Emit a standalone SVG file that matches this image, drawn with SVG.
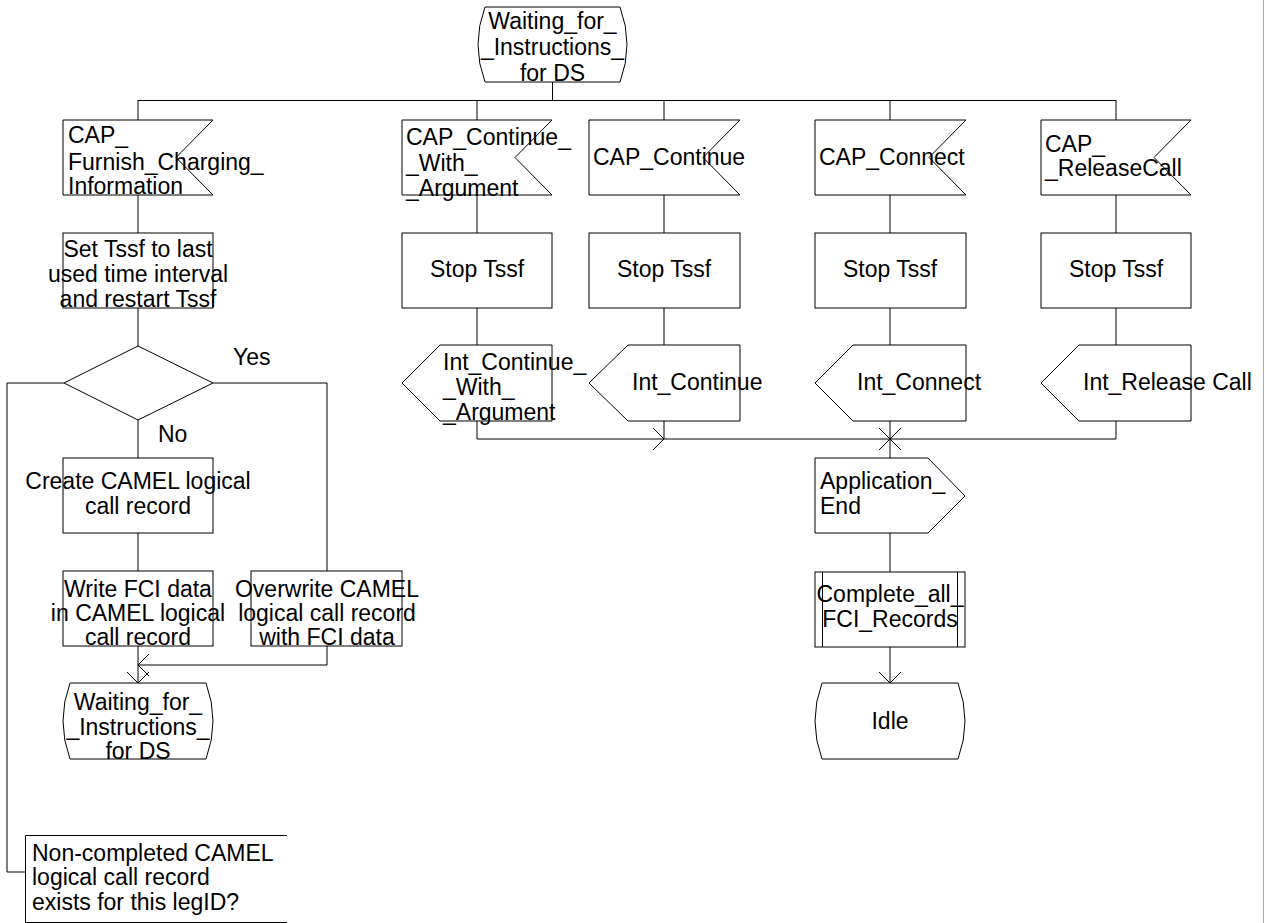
<svg xmlns="http://www.w3.org/2000/svg" width="1265" height="923" viewBox="0 0 1265 923">
<style>
.s{fill:#fff;stroke:#000;stroke-width:1}
.c{fill:none;stroke:#000;stroke-width:1}
text{font-family:"Liberation Sans",Arial,sans-serif;font-size:23px;fill:#000}
.m{text-anchor:middle}
</style>
<defs>
<marker id="ar" markerUnits="userSpaceOnUse" markerWidth="26" markerHeight="26" viewBox="-13 -13 26 26" refX="0" refY="0" orient="auto">
<path d="M-11,-11 L0,0 L-11,11" fill="none" stroke="#000" stroke-width="1"/>
</marker>
</defs>
<rect x="0" y="0" width="1265" height="923" fill="#fff"/>
<line x1="1263.5" y1="0" x2="1263.5" y2="923" stroke="#aaa" stroke-width="1"/>
<g id="connectors">
<line class="c" x1="552.5" y1="82" x2="552.5" y2="100" stroke-width="2"/>
<line class="c" x1="138" y1="100.5" x2="1116" y2="100.5"/>
<line class="c" x1="138" y1="100" x2="138" y2="120"/>
<line class="c" x1="477" y1="100" x2="477" y2="120"/>
<line class="c" x1="664" y1="100" x2="664" y2="120"/>
<line class="c" x1="890" y1="100" x2="890" y2="120"/>
<line class="c" x1="1116" y1="100" x2="1116" y2="120"/>
<line class="c" x1="138" y1="195" x2="138" y2="233"/>
<line class="c" x1="138" y1="308" x2="138" y2="346"/>
<polyline class="c" points="64,383 7,383 7,872 25,872"/>
<polyline class="c" points="213,383 327,383 327,571"/>
<line class="c" x1="138" y1="420" x2="138" y2="458"/>
<line class="c" x1="138" y1="533" x2="138" y2="571"/>
<line class="c" x1="138" y1="646" x2="138" y2="683" marker-end="url(#ar)"/>
<polyline class="c" points="327,646 327,665 138,665" marker-end="url(#ar)"/>
<line class="c" x1="477" y1="195" x2="477" y2="233"/>
<line class="c" x1="477" y1="308" x2="477" y2="345"/>
<line class="c" x1="664" y1="195" x2="664" y2="233"/>
<line class="c" x1="664" y1="308" x2="664" y2="345"/>
<line class="c" x1="890" y1="195" x2="890" y2="233"/>
<line class="c" x1="890" y1="308" x2="890" y2="345"/>
<line class="c" x1="1116" y1="195" x2="1116" y2="233"/>
<line class="c" x1="1116" y1="308" x2="1116" y2="345"/>
<polyline class="c" points="477,421 477,439 664,439" marker-end="url(#ar)"/>
<line class="c" x1="664" y1="421" x2="664" y2="439"/>
<line class="c" x1="664" y1="439" x2="890" y2="439" stroke-width="2" marker-end="url(#ar)"/>
<polyline class="c" points="1116,421 1116,439 890,439" marker-end="url(#ar)"/>
<line class="c" x1="890" y1="421" x2="890" y2="458"/>
<line class="c" x1="890" y1="533" x2="890" y2="572"/>
<line class="c" x1="890" y1="647" x2="890" y2="683" marker-end="url(#ar)"/>
</g>
<g id="state_top">
<path class="s" d="M485,7 L620,7 Q634,44.5 620,82 L485,82 Q471,44.5 485,7 Z"/>
<text class="m" x="552.5" y="29">Waiting_for_</text>
<text class="m" x="552.5" y="55">_Instructions_</text>
<text class="m" x="552.5" y="81">for DS</text>
</g>
<g id="in_furnish">
<polygon class="s" points="63,120 213,120 176,157.5 213,195 63,195"/>
<text x="68" y="143">CAP_</text>
<text x="68" y="170">Furnish_Charging_</text>
<text x="68" y="194">Information</text>
</g>
<g id="task_set_tssf">
<rect class="s" x="63" y="233" width="150" height="75"/>
<text class="m" x="138" y="257">Set Tssf to last</text>
<text class="m" x="138" y="282">used time interval</text>
<text class="m" x="138" y="307">and restart Tssf</text>
</g>
<g id="decision">
<polygon class="s" points="138,346 213,383 138,420 64,383"/>
<text x="233" y="365">Yes</text>
<text x="158" y="442">No</text>
</g>
<g id="task_create">
<rect class="s" x="63" y="458" width="150" height="75"/>
<text class="m" x="138" y="489">Create CAMEL logical</text>
<text class="m" x="138" y="514">call record</text>
</g>
<g id="task_write">
<rect class="s" x="63" y="571" width="150" height="75"/>
<text class="m" x="138" y="597">Write FCI data</text>
<text class="m" x="138" y="621">in CAMEL logical</text>
<text class="m" x="138" y="645">call record</text>
</g>
<g id="task_overwrite">
<rect class="s" x="251" y="571" width="151" height="75"/>
<text class="m" x="327" y="597">Overwrite CAMEL</text>
<text class="m" x="327" y="621">logical call record</text>
<text class="m" x="327" y="645">with FCI data</text>
</g>
<g id="state_wait_left">
<path class="s" d="M70,683 L206,683 Q220,721 206,759 L70,759 Q56,721 70,683 Z"/>
<text class="m" x="138" y="710">Waiting_for_</text>
<text class="m" x="138" y="735">_Instructions_</text>
<text class="m" x="138" y="759">for DS</text>
</g>
<g id="comment">
<path class="c" d="M287,835.5 L25.5,835.5 L25.5,922.5 L287,922.5"/>
<text x="32" y="861">Non-completed CAMEL</text>
<text x="32" y="885">logical call record</text>
<text x="32" y="910">exists for this legID?</text>
</g>
<g id="in_continue_arg">
<polygon class="s" points="402,120 552,120 515,157.5 552,195 402,195"/>
<text x="406" y="145">CAP_Continue_</text>
<text x="406" y="171">_With_</text>
<text x="406" y="196">_Argument</text>
</g>
<g id="in_continue">
<polygon class="s" points="589,120 740,120 703,157.5 740,195 589,195"/>
<text x="593" y="165">CAP_Continue</text>
</g>
<g id="in_connect">
<polygon class="s" points="815,120 966,120 929,157.5 966,195 815,195"/>
<text x="819" y="165">CAP_Connect</text>
</g>
<g id="in_release">
<polygon class="s" points="1041,120 1191,120 1154,157.5 1191,195 1041,195"/>
<text x="1045" y="152">CAP_</text>
<text x="1045" y="176">_ReleaseCall</text>
</g>
<g id="stop1"><rect class="s" x="402" y="233" width="150" height="75"/><text class="m" x="477" y="277">Stop Tssf</text></g>
<g id="stop2"><rect class="s" x="589" y="233" width="151" height="75"/><text class="m" x="664" y="277">Stop Tssf</text></g>
<g id="stop3"><rect class="s" x="815" y="233" width="151" height="75"/><text class="m" x="890" y="277">Stop Tssf</text></g>
<g id="stop4"><rect class="s" x="1041" y="233" width="150" height="75"/><text class="m" x="1116" y="277">Stop Tssf</text></g>
<g id="out_continue_arg">
<polygon class="s" points="440,345 552,345 552,421 440,421 402,383"/>
<text x="443" y="370">Int_Continue_</text>
<text x="443" y="395">_With_</text>
<text x="443" y="420">_Argument</text>
</g>
<g id="out_continue">
<polygon class="s" points="628,345 740,345 740,421 628,421 589,383"/>
<text x="632" y="390">Int_Continue</text>
</g>
<g id="out_connect">
<polygon class="s" points="853,345 966,345 966,421 853,421 815,383"/>
<text x="857" y="390">Int_Connect</text>
</g>
<g id="out_release">
<polygon class="s" points="1079,345 1191,345 1191,421 1079,421 1041,383"/>
<text x="1083" y="390">Int_Release Call</text>
</g>
<g id="out_app_end">
<polygon class="s" points="815,458 928,458 965,496 928,533 815,533"/>
<text x="820" y="489">Application_</text>
<text x="820" y="514">End</text>
</g>
<g id="proc_complete">
<rect class="s" x="815" y="572" width="150" height="75"/>
<line class="c" x1="822.5" y1="572" x2="822.5" y2="647"/>
<line class="c" x1="957.5" y1="572" x2="957.5" y2="647"/>
<text class="m" x="890" y="602">Complete_all_</text>
<text class="m" x="890" y="627">FCI_Records</text>
</g>
<g id="state_idle">
<path class="s" d="M822,683 L958,683 Q972,721 958,759 L822,759 Q808,721 822,683 Z"/>
<text class="m" x="890" y="729">Idle</text>
</g>
</svg>
